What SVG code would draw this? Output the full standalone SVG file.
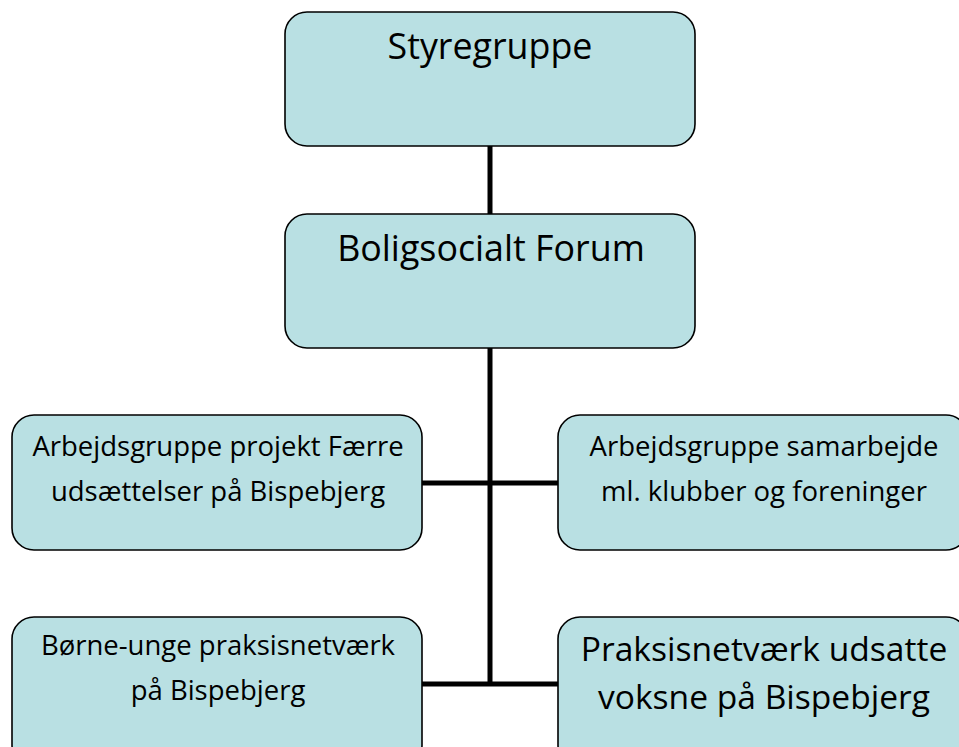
<svg xmlns="http://www.w3.org/2000/svg" width="959" height="747" viewBox="0 0 959 747">
<style>
.box{fill:#b9e0e3;stroke:#000;stroke-width:1.6}
.t{font-family:"Open Sans","Liberation Sans",sans-serif;fill:#000;text-anchor:middle}
.big{font-size:35.8px}
.mid{font-size:33.6px}
.sm{font-size:27.5px}
.conn{stroke:#000;stroke-width:5;fill:none}
</style>
<rect width="959" height="747" fill="#fff"/>
<g id="connectors">
<line class="conn" x1="490" y1="146" x2="490" y2="214"/>
<line class="conn" x1="490" y1="348" x2="490" y2="686"/>
<line class="conn" x1="422" y1="483" x2="558" y2="483"/>
<line class="conn" x1="422" y1="684" x2="558" y2="684"/>
</g>
<g id="styregruppe">
<rect class="box" x="285" y="12" width="410" height="134" rx="22"/>
<text class="t big" x="490" y="59">Styregruppe</text>
</g>
<g id="boligsocialt-forum">
<rect class="box" x="285" y="214" width="410" height="134" rx="22"/>
<text class="t big" x="491" y="261">Boligsocialt Forum</text>
</g>
<g id="arbejdsgruppe-faerre">
<rect class="box" x="12" y="415" width="410" height="135" rx="22"/>
<text class="t sm" x="218" y="456">Arbejdsgruppe projekt Færre</text>
<text class="t sm" x="218" y="501">udsættelser på Bispebjerg</text>
</g>
<g id="arbejdsgruppe-samarbejde">
<rect class="box" x="558" y="415" width="410" height="135" rx="22"/>
<text class="t sm" x="764" y="456">Arbejdsgruppe samarbejde</text>
<text class="t sm" x="764" y="501">ml. klubber og foreninger</text>
</g>
<g id="boerne-unge">
<rect class="box" x="12" y="617" width="410" height="150" rx="22"/>
<text class="t sm" x="218" y="655">Børne-unge praksisnetværk</text>
<text class="t sm" x="218" y="700">på Bispebjerg</text>
</g>
<g id="praksisnetvaerk-udsatte">
<rect class="box" x="558" y="617" width="410" height="150" rx="22"/>
<text class="t mid" x="764" y="661">Praksisnetværk udsatte</text>
<text class="t mid" x="764" y="709">voksne på Bispebjerg</text>
</g>
</svg>
